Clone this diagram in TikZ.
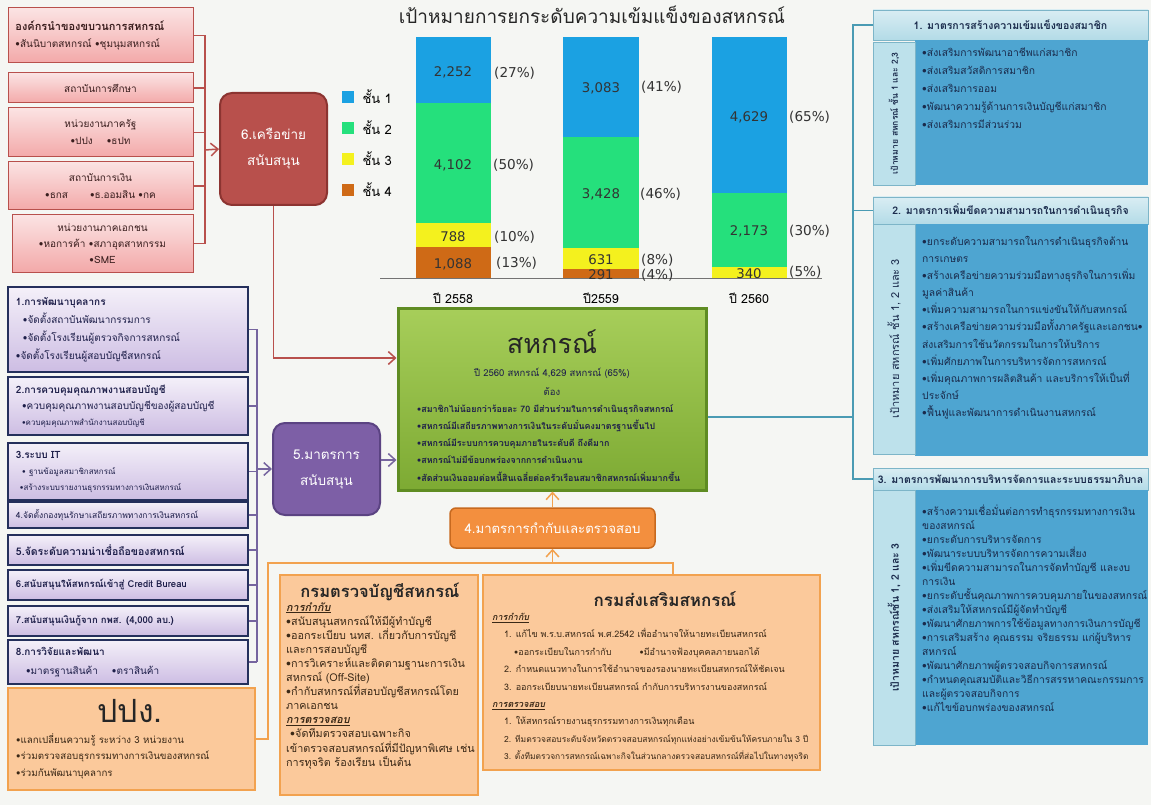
\documentclass[tikz,border=0pt]{standalone}
\usepackage{fontspec}
\setmainfont[Script=Thai]{Loma}
\newfontfamily\chartfont{DejaVu Sans}
\usetikzlibrary{arrows.meta,positioning}

\definecolor{bgpaper}{HTML}{F5F6F3}
\definecolor{netred}{HTML}{B8504C}
\definecolor{netdark}{HTML}{8C3431}
\definecolor{pinktop}{HTML}{FBE3E3}
\definecolor{pinkbot}{HTML}{F3A9A9}
\definecolor{pinktext}{HTML}{3A1E1E}
\definecolor{supstroke}{HTML}{76659F}
\definecolor{supnode}{HTML}{7D5FA6}
\definecolor{supdark}{HTML}{5B4382}
\definecolor{navyedge}{HTML}{25305C}
\definecolor{lavtop}{HTML}{F4F0F9}
\definecolor{lavbot}{HTML}{CDBDE3}
\definecolor{navytext}{HTML}{1E1F4A}
\definecolor{coopedge}{HTML}{5F8C22}
\definecolor{cooptop}{HTML}{A7CE5A}
\definecolor{coopbot}{HTML}{7DAA33}
\definecolor{orstroke}{HTML}{F2A24F}
\definecolor{ornode}{HTML}{F38F3E}
\definecolor{ordark}{HTML}{C7691F}
\definecolor{orfill}{HTML}{FBC99B}
\definecolor{ortext}{HTML}{3A2816}
\definecolor{tealstroke}{HTML}{4A9BB3}
\definecolor{tealhead}{HTML}{B3DBE7}
\definecolor{tealstrip}{HTML}{BDE1EB}
\definecolor{tealbody}{HTML}{4EA5D1}
\definecolor{tealedge}{HTML}{7DB5C8}
\definecolor{tealtext}{HTML}{1A2B4C}
\definecolor{bar1}{HTML}{1BA1E2}
\definecolor{bar2}{HTML}{25E07C}
\definecolor{bar3}{HTML}{F4F11E}
\definecolor{bar4}{HTML}{CF6A16}

\newcommand{\thsize}[2]{\fontsize{#1}{#2}\selectfont}

\tikzset{%
  >={Straight Barb[length=2.5mm,width=4.5mm]},
  % boxes of the network and of the support measures
        pinkbox/.style = {rectangle, draw=netred, line width=1pt,
                          top color=pinktop, bottom color=pinkbot,
                          text=pinktext, minimum width=185pt,
                          font=\thsize{10}{17}, align=center},
         lavbox/.style = {rectangle, draw=navyedge, line width=1.6pt,
                          top color=lavtop, bottom color=lavbot,
                          text=navytext, minimum width=240pt, text width=224pt,
                          font=\thsize{10}{18}, align=left},
        keynode/.style = {rectangle, rounded corners=12pt, line width=2pt,
                          text=white, minimum width=107pt,
                          font=\thsize{13.5}{26}, align=center},
          orbox/.style = {rectangle, draw=orstroke, line width=1.5pt, fill=orfill},
         orlist/.style = {anchor=north west, inner sep=0pt, align=left, text=ortext},
  % boxes of the three measures (right)
        teahead/.style = {rectangle, draw=tealedge, line width=0.8pt,
                          top color=tealhead!50!white, bottom color=tealhead,
                          minimum width=275pt, text=tealtext,
                          font=\bfseries\thsize{10.5}{12}},
       teastrip/.style = {rectangle, draw=tealedge, line width=0.8pt,
                          fill=tealstrip, rotate=90, minimum height=42pt,
                          text=tealtext},
        teabody/.style = {rectangle, fill=tealbody, minimum width=233pt},
        tealist/.style = {anchor=north west, inner sep=0pt, align=left,
                          text=tealtext},
  % chart labels
       chartnum/.style = {font=\chartfont\thsize{13.3}{15}, text=black!80},
       chartpct/.style = {font=\chartfont\thsize{13.6}{15}, text=black!80,
                          anchor=west, inner sep=1pt},
  % connectors
        netlink/.style = {draw=netred, line width=1.5pt},
        suplink/.style = {draw=supstroke, line width=1.5pt},
         orlink/.style = {draw=orstroke, line width=1.5pt},
        tealink/.style = {draw=tealstroke, line width=1.5pt},
}

\begin{document}
\begin{tikzpicture}[x=1pt, y=-1pt]
  \useasboundingbox (0,0) rectangle (1151,805);
  \fill[bgpaper] (0,0) rectangle (1151,805);

  % chart
  \node (chartTitle) [font=\thsize{19}{21}, text=black!85] at (592,15)
        {เป้าหมายการยกระดับความเข้มแข็งของสหกรณ์};
  \fill[bar1] (416,37) rectangle (491,103);
  \fill[bar2] (416,103) rectangle (491,223);
  \fill[bar3] (416,223) rectangle (491,247);
  \fill[bar4] (416,247) rectangle (491,278);
  \fill[bar1] (563,37) rectangle (639,137);
  \fill[bar2] (563,137) rectangle (639,248);
  \fill[bar3] (563,248) rectangle (639,269);
  \fill[bar4] (563,269) rectangle (639,278);
  \fill[bar1] (712,37) rectangle (787,193);
  \fill[bar2] (712,193) rectangle (787,267);
  \fill[bar3] (712,267) rectangle (787,278);
  \draw[black!55] (380,278) -- (822,278);

  \node (v2252) [chartnum] at (453,72) {2,252};
  \node (v4102) [chartnum] at (453,165) {4,102};
  \node (v788)  [chartnum] at (453,237) {788};
  \node (v1088) [chartnum] at (453,264) {1,088};
  \node (v3083) [chartnum] at (601,88) {3,083};
  \node (v3428) [chartnum] at (601,194) {3,428};
  \node (v631)  [chartnum] at (601,260) {631};
  \node (v291)  [chartnum] at (601,275) {291};
  \node (v4629) [chartnum] at (749,117) {4,629};
  \node (v2173) [chartnum] at (749,231) {2,173};
  \node (v340)  [chartnum] at (749,274) {340};
  \node (p27) [chartpct] at (493,73) {(27\%)};
  \node (p50) [chartpct] at (492,165) {(50\%)};
  \node (p10) [chartpct] at (493,237) {(10\%)};
  \node (p13) [chartpct] at (495,263) {(13\%)};
  \node (p41) [chartpct] at (640,87) {(41\%)};
  \node (p46) [chartpct] at (639,194) {(46\%)};
  \node (p8)  [chartpct] at (640,260) {(8\%)};
  \node (p4)  [chartpct] at (640,275) {(4\%)};
  \node (p65) [chartpct] at (788,117) {(65\%)};
  \node (p30) [chartpct] at (788,231) {(30\%)};
  \node (p5)  [chartpct] at (788,272) {(5\%)};
  \node (yr2558) [font=\thsize{12.5}{14}] at (453,298) {ปี 2558};
  \node (yr2559) [font=\thsize{12.5}{14}] at (601,298) {ปี2559};
  \node (yr2560) [font=\thsize{12.5}{14}] at (749,298) {ปี 2560};

  \fill[bar1] (342,91) rectangle (354,103);
  \fill[bar2] (342,122) rectangle (354,134);
  \fill[bar3] (342,153) rectangle (354,165);
  \fill[bar4] (342,184) rectangle (354,196);
  \node (leg1) [anchor=west, font=\thsize{13}{14}] at (359,97) {ชั้น 1};
  \node (leg2) [anchor=west, font=\thsize{13}{14}] at (359,128) {ชั้น 2};
  \node (leg3) [anchor=west, font=\thsize{13}{14}] at (359,159) {ชั้น 3};
  \node (leg4) [anchor=west, font=\thsize{13}{14}] at (359,190) {ชั้น 4};

  % 6. network
  \node (orgA)  [pinkbox, minimum height=55pt, text width=170pt, align=left]
        at (100.5,35.5) {{\bfseries\thsize{11}{17}องค์กรนำของขบวนการสหกรณ์}\\•สันนิบาตสหกรณ์ •ชุมนุมสหกรณ์};
  \node (eduB)  [pinkbox, minimum height=30pt] at (100.5,88) {สถาบันการศึกษา};
  \node (govC)  [pinkbox, minimum height=49pt] at (100.5,132.5)
        {หน่วยงานภาครัฐ\\•ปปง\hspace{14pt}•ธปท};
  \node (finD)  [pinkbox, minimum height=48pt] at (100.5,186)
        {สถาบันการเงิน\\•ธกส\hspace{22pt}•ธ.ออมสิน •กค};
  \node (privE) [pinkbox, minimum width=181pt, minimum height=57pt,
                 font=\thsize{10}{16}] at (102.5,243.5)
        {หน่วยงานภาคเอกชน\\•หอการค้า •สภาอุตสาหกรรม\\•SME};
  \node (net) [keynode, fill=netred, draw=netdark, minimum height=112pt]
        at (273.5,149) {6.เครือข่าย\\สนับสนุน};
  \coordinate (netbar) at (205,150);
  \draw[netlink] (orgA.east) -- (orgA.east -| netbar) -- (privE.east -| netbar);
  \draw[netlink] (eduB.east) -- (eduB.east -| netbar);
  \draw[netlink] (govC.east) -- (govC.east -| netbar);
  \draw[netlink] (finD.east) -- (finD.east -| netbar);
  \draw[netlink] (privE.east) -- (privE.east -| netbar);
  \draw[netlink,->] (netbar) -- (net.west);

  % 5. support measures
  \node (dev1) [lavbox, minimum height=85pt] at (128,329.5)
        {{\bfseries 1.การพัฒนาบุคลากร}\\\hspace*{7pt}•จัดตั้งสถาบันพัฒนากรรมการ\\
         \hspace*{7pt}•จัดตั้งโรงเรียนผู้ตรวจกิจการสหกรณ์\\•จัดตั้งโรงเรียนผู้สอบบัญชีสหกรณ์};
  \node (acc2) [lavbox, minimum height=58pt, font=\thsize{10}{16}] at (128,406)
        {{\bfseries 2.การควบคุมคุณภาพงานสอบบัญชี}\\
         \hspace*{6pt}•ควบคุมคุณภาพงานสอบบัญชีของผู้สอบบัญชี\\
         \hspace*{6pt}{\thsize{8}{10}•ควบคุมคุณภาพสำนักงานสอบบัญชี}};
  \node (it3) [lavbox, minimum height=57pt, font=\thsize{10}{16}] at (128,471.5)
        {{\bfseries 3.ระบบ IT}\\\hspace*{6pt}{\thsize{8}{10}• ฐานข้อมูลสมาชิกสหกรณ์}\\
         \hspace*{4pt}{\thsize{8}{10}•สร้างระบบรายงานธุรกรรมทางการเงินสหกรณ์}};
  \node (fund4) [lavbox, minimum height=26pt, font=\thsize{8.5}{10}] at (128,515)
        {4.จัดตั้งกองทุนรักษาเสถียรภาพทางการเงินสหกรณ์};
  \node (rate5) [lavbox, minimum height=30pt, font=\bfseries\thsize{10.5}{12}]
        at (128,550) {5.จัดระดับความน่าเชื่อถือของสหกรณ์};
  \node (cb6) [lavbox, minimum height=30pt, font=\bfseries\thsize{9.5}{12}]
        at (128,585) {6.สนับสนุนให้สหกรณ์เข้าสู่ Credit Bureau};
  \node (loan7) [lavbox, minimum height=30pt, font=\bfseries\thsize{9.5}{12}]
        at (128,621) {7.สนับสนุนเงินกู้จาก กพส. (4,000 ลบ.)};
  \node (rd8) [lavbox, minimum height=44pt, font=\thsize{10}{19}] at (128,662)
        {{\bfseries 8.การวิจัยและพัฒนา}\\\hspace*{10pt}•มาตรฐานสินค้า\hspace{14pt}•ตราสินค้า};
  \node (sup) [keynode, fill=supnode, draw=supdark, minimum height=92pt]
        at (326.5,469) {5.มาตรการ\\สนับสนุน};
  \coordinate (supbar) at (257,469);
  \draw[suplink] (dev1.east) -- (dev1.east -| supbar) -- (rd8.east -| supbar);
  \draw[suplink] (acc2.east) -- (acc2.east -| supbar);
  \draw[suplink] (it3.east) -- (it3.east -| supbar);
  \draw[suplink] (fund4.east) -- (fund4.east -| supbar);
  \draw[suplink] (rate5.east) -- (rate5.east -| supbar);
  \draw[suplink] (cb6.east) -- (cb6.east -| supbar);
  \draw[suplink] (loan7.east) -- (loan7.east -| supbar);
  \draw[suplink] (rd8.east) -- (rd8.east -| supbar);
  \draw[suplink,->] (supbar) -- (sup.west);

  % cooperative
  \node (coop) [rectangle, draw=coopedge, line width=3pt, top color=cooptop,
                bottom color=coopbot, minimum width=308pt, minimum height=182pt]
        at (552,399) {};
  \node (coopTitle) [font=\thsize{27}{32}, text=black!85] at (552,342) {สหกรณ์};
  \node (coopSub) [font=\thsize{9.5}{19}, align=center, text=navytext]
        at (552,382) {ปี 2560 สหกรณ์ 4,629 สหกรณ์ (65\%)\\ต้อง};
  \node (coopList) [anchor=north west, inner sep=0pt, align=left,
                    font=\bfseries\thsize{8.9}{17.3}, text=navytext] at (417,404)
        {•สมาชิกไม่น้อยกว่าร้อยละ 70 มีส่วนร่วมในการดำเนินธุรกิจสหกรณ์\\
         •สหกรณ์มีเสถียรภาพทางการเงินในระดับมั่นคงมาตรฐานขึ้นไป\\
         •สหกรณ์มีระบบการควบคุมภายในระดับดี ถึงดีมาก\\
         •สหกรณ์ไม่มีข้อบกพร่องจากการดำเนินงาน\\
         •สัดส่วนเงินออมต่อหนี้สินเฉลี่ยต่อครัวเรือนสมาชิกสหกรณ์เพิ่มมากขึ้น};
  \draw[netlink,->] (net.south) |- ([yshift=41pt]coop.west);
  \draw[suplink,->] ([yshift=9pt]sup.east) -- ([yshift=9pt]sup.east -| coop.west);

  % 4. supervision and audit
  \node (tdc) [keynode, rounded corners=6pt, fill=ornode, draw=ordark,
               line width=1.5pt, minimum width=205pt, minimum height=40pt,
               font=\thsize{13.2}{15}] at (552.5,528) {4.มาตรการกำกับและตรวจสอบ};
  \draw[orlink,->] (tdc.north) -- (tdc.north |- coop.south);

  \node (ppg) [orbox, minimum width=247pt, minimum height=102pt] at (131.5,739) {};
  \node (ppgTitle) [font=\thsize{32}{34}, text=black!85] at (130,711) {ปปง.};
  \node (ppgList) [orlist, font=\thsize{9.7}{16.5}] at (16,733)
        {•แลกเปลี่ยนความรู้ ระหว่าง 3 หน่วยงาน\\
         •ร่วมตรวจสอบธุรกรรมทางการเงินของสหกรณ์\\•ร่วมกันพัฒนาบุคลากร};

  \node (audit) [orbox, minimum width=198pt, minimum height=220pt] at (379,685) {};
  \node (auditTitle) [font=\bfseries\thsize{16.5}{19}, text=black!85] at (380,592)
        {กรมตรวจบัญชีสหกรณ์};
  \node (auditList) [orlist, font=\thsize{10.8}{14.1}] at (286,602)
        {{\bfseries\itshape\underline{การกำกับ}}\\
         •สนับสนุนสหกรณ์ให้มีผู้ทำบัญชี\\
         •ออกระเบียบ นทส. เกี่ยวกับการบัญชี\\
         และการสอบบัญชี\\
         •การวิเคราะห์และติดตามฐานะการเงิน\\
         สหกรณ์ (Off-Site)\\
         •กำกับสหกรณ์ที่สอบบัญชีสหกรณ์โดย\\
         ภาคเอกชน\\
         {\bfseries\itshape\underline{การตรวจสอบ}}\\
         \hspace*{4pt}•จัดทีมตรวจสอบเฉพาะกิจ\\
         เข้าตรวจสอบสหกรณ์ที่มีปัญหาพิเศษ เช่น\\
         การทุจริต ร้องเรียน เป็นต้น};

  \node (promo) [orbox, minimum width=337pt, minimum height=195pt] at (651.5,672.5) {};
  \node (promoTitle) [font=\bfseries\thsize{17}{20}, text=black!85] at (665,599)
        {กรมส่งเสริมสหกรณ์};
  \node (promoList) [orlist, font=\thsize{9}{17.4}] at (492,613)
        {{\bfseries\itshape\underline{การกำกับ}}\\
         \hspace*{12pt}1. แก้ไข พ.ร.บ.สหกรณ์ พ.ศ.2542 เพื่ออำนาจให้นายทะเบียนสหกรณ์\\
         \hspace*{22pt}•ออกระเบียบในการกำกับ\hspace{28pt}•มีอำนาจฟ้องบุคคลภายนอกได้\\
         \hspace*{12pt}2. กำหนดแนวทางในการใช้อำนาจของรองนายทะเบียนสหกรณ์ให้ชัดเจน\\
         \hspace*{12pt}3. ออกระเบียบนายทะเบียนสหกรณ์ กำกับการบริหารงานของสหกรณ์\\
         {\bfseries\itshape\underline{การตรวจสอบ}}\\
         \hspace*{12pt}1. ให้สหกรณ์รายงานธุรกรรมทางการเงินทุกเดือน\\
         \hspace*{12pt}{\thsize{8.5}{10}2. ทีมตรวจสอบระดับจังหวัดตรวจสอบสหกรณ์ทุกแห่งอย่างเข้มข้นให้ครบภายใน 3 ปี}\\
         \hspace*{12pt}{\thsize{8.4}{10}3. ตั้งทีมตรวจการสหกรณ์เฉพาะกิจในส่วนกลางตรวจสอบสหกรณ์ที่ส่อไปในทางทุจริต}};

  \coordinate (orL) at (268,563);
  \coordinate (orR) at (673,563);
  \draw[orlink] (ppg.east) -- (ppg.east -| orL) -- (orL) -- (orR) -- (orR |- promo.north);
  \draw[orlink,->] (tdc.south |- orL) -- (tdc.south);

  % 1.-3. measures (right)
  \node (h1) [teahead, minimum height=30pt] at (1010.5,25)
        {1. มาตรการสร้างความเข้มแข็งของสมาชิก};
  \node (b1) [teabody, minimum height=145pt] at (1031.5,112.5) {};
  \node (s1) [teastrip, minimum width=143pt, font=\bfseries\thsize{8.6}{11}]
        at (894,113.5) {เป้าหมาย สหกรณ์ ชั้น 1 และ 2,3};
  \node (b1text) [tealist, font=\thsize{10.3}{17.9}] at (922,48)
        {•ส่งเสริมการพัฒนาอาชีพแก่สมาชิก\\•ส่งเสริมสวัสดิการสมาชิก\\•ส่งเสริมการออม\\
         •พัฒนาความรู้ด้านการเงินบัญชีแก่สมาชิก\\•ส่งเสริมการมีส่วนร่วม};

  \node (h2) [teahead, minimum height=27pt] at (1010.5,210.5)
        {2. มาตรการเพิ่มขีดความสามารถในการดำเนินธุรกิจ};
  \node (b2) [teabody, minimum height=232pt] at (1031.5,340) {};
  \node (s2) [teastrip, minimum width=230pt, font=\thsize{11}{12}]
        at (894,339) {เป้าหมาย สหกรณ์ ชั้น 1, 2 และ 3};
  \node (b2text) [tealist, font=\thsize{10.3}{17.1}] at (922,236)
        {•ยกระดับความสามารถในการดำเนินธุรกิจด้าน\\การเกษตร\\
         •สร้างเครือข่ายความร่วมมือทางธุรกิจในการเพิ่ม\\มูลค่าสินค้า\\
         •เพิ่มความสามารถในการแข่งขันให้กับสหกรณ์\\
         •สร้างเครือข่ายความร่วมมือทั้งภาครัฐและเอกชน•\\
         ส่งเสริมการใช้นวัตกรรมในการให้บริการ\\
         •เพิ่มศักยภาพในการบริหารจัดการสหกรณ์\\
         •เพิ่มคุณภาพการผลิตสินค้า และบริการให้เป็นที่\\ประจักษ์\\
         •ฟื้นฟูและพัฒนาการดำเนินงานสหกรณ์};

  \node (h3) [teahead, minimum height=22pt] at (1010.5,479)
        {3. มาตรการพัฒนาการบริหารจัดการและระบบธรรมาภิบาล};
  \node (b3) [teabody, minimum height=255pt] at (1031.5,617.5) {};
  \node (s3) [teastrip, minimum width=255pt, font=\bfseries\thsize{10.5}{12}]
        at (894,617.5) {เป้าหมาย สหกรณ์ชั้น 1, 2 และ 3};
  \node (b3text) [tealist, font=\thsize{10.3}{14}] at (922,505)
        {•สร้างความเชื่อมั่นต่อการทำธุรกรรมทางการเงิน\\ของสหกรณ์\\
         •ยกระดับการบริหารจัดการ\\•พัฒนาระบบบริหารจัดการความเสี่ยง\\
         •เพิ่มขีดความสามารถในการจัดทำบัญชี และงบ\\การเงิน\\
         •ยกระดับชั้นคุณภาพการควบคุมภายในของสหกรณ์\\
         •ส่งเสริมให้สหกรณ์มีผู้จัดทำบัญชี\\
         •พัฒนาศักยภาพการใช้ข้อมูลทางการเงินการบัญชี\\
         •การเสริมสร้าง คุณธรรม จริยธรรม แก่ผู้บริหาร\\สหกรณ์\\
         •พัฒนาศักยภาพผู้ตรวจสอบกิจการสหกรณ์\\
         •กำหนดคุณสมบัติและวิธีการสรรหาคณะกรรมการ\\และผู้ตรวจสอบกิจการ\\
         •แก้ไขข้อบกพร่องของสหกรณ์};

  \coordinate (teabar) at (853,417);
  \draw[tealink] (h1.west) -- (h1.west -| teabar) -- (h3.west -| teabar) -- (h3.west);
  \draw[tealink] (h2.west) -- (h2.west -| teabar);
  \draw[tealink] ([yshift=-18pt]coop.east) -- ([yshift=-18pt]coop.east -| teabar);
\end{tikzpicture}
\end{document}
